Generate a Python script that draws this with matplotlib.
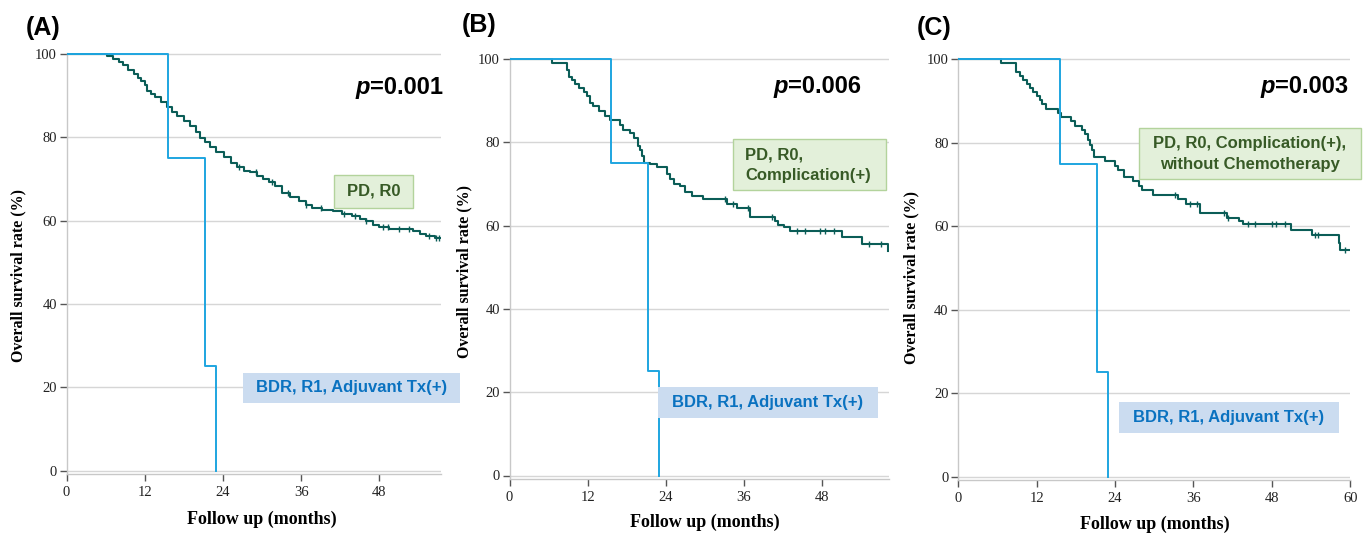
#!/usr/bin/env python3
# Kaplan-Meier overall survival, three subgroups (A, B, C)

import numpy as np
import matplotlib
matplotlib.use('Agg')
import matplotlib.pyplot as plt
from matplotlib.patches import Rectangle


############################################################
# Data (months, survival %)

# BDR, R1, Adjuvant Tx(+) -- same small group in all panels
bdr_time = [0, 15.6, 21.2, 22.9]
bdr_surv = [100, 75, 25, 0]

# (A) PD, R0
a_time = [0, 6.2, 7.2, 8.0, 8.7, 9.5, 10.3, 11.0, 11.5, 12.0, 12.3, 13.0, 13.6, 14.5, 15.4,
          16.2, 16.9, 18.0, 19.0, 19.8, 20.5, 21.2, 22.0, 23.0, 24.1, 25.2, 26.2, 27.2, 28.2,
          29.2, 30.2, 31.0, 32.0, 33.1, 34.3, 35.6, 36.7, 37.7, 39.2, 40.8, 42.3, 43.8, 45.0,
          45.9, 47.0, 47.9, 49.5, 51.0, 53.1, 54.2, 55.1, 56.5, 57.4]
a_surv = [100, 99.6, 98.9, 98.0, 97.3, 96.2, 95.3, 94.3, 93.6, 92.6, 91.2, 90.3, 89.6, 88.4, 87.3,
          86.0, 85.1, 83.8, 82.6, 81.2, 79.8, 78.8, 77.7, 76.5, 75.3, 73.9, 72.8, 72.0, 71.6,
          70.7, 70.0, 69.3, 68.4, 66.7, 65.6, 64.7, 63.8, 63.0, 62.6, 62.2, 61.6, 61.0, 60.4,
          59.8, 59.0, 58.4, 58.1, 57.9, 57.6, 56.8, 56.2, 55.9, 55.9]
a_censor = [26.5, 29.0, 31.5, 34.0, 36.7, 39.0, 42.5, 44.3, 46.0, 48.5, 49.3, 51.0, 52.5,
            55.6, 56.7, 57.2]

# (B) PD, R0, Complication(+)
b_time = [0, 6.5, 8.8, 9.1, 9.6, 10.1, 10.6, 11.4, 11.9, 12.4, 12.9, 13.7, 14.7, 15.5, 17.0,
          17.5, 18.5, 19.1, 19.8, 20.1, 20.3, 20.7, 21.6, 22.6, 24.2, 24.7, 25.2, 26.2, 27.0,
          28.0, 29.8, 33.4, 34.9, 37.0, 40.8, 41.3, 42.1, 43.1, 51.1, 54.1, 58.1]
b_surv = [100, 99.1, 97.3, 95.7, 94.9, 94.0, 93.0, 92.0, 91.0, 89.5, 88.7, 87.6, 86.4, 85.3, 84.1,
          83.0, 82.2, 81.1, 79.1, 78.1, 76.6, 75.0, 74.7, 74.0, 72.4, 71.2, 70.1, 69.4, 68.1,
          67.1, 66.3, 65.3, 64.2, 62.1, 61.1, 60.1, 59.7, 58.7, 57.3, 55.6, 54.0]
b_censor = [33.1, 34.4, 36.7, 40.3, 44.2, 45.4, 47.7, 48.5, 49.8, 55.2, 57.0]

# (C) PD, R0, Complication(+), without Chemotherapy
c_time = [0, 6.6, 8.9, 9.4, 9.9, 10.5, 11.0, 11.5, 12.0, 12.5, 12.8, 13.5, 15.3, 15.7, 17.3,
          17.9, 18.9, 19.4, 19.9, 20.2, 20.4, 20.8, 22.4, 24.0, 24.5, 25.3, 26.8, 27.6, 28.1,
          29.8, 33.7, 34.9, 37.0, 41.1, 42.9, 43.6, 51.0, 54.1, 58.2, 58.4, 60.0]
c_surv = [100, 99.2, 97.0, 96.0, 95.1, 94.1, 93.2, 92.3, 91.3, 90.3, 89.3, 88.2, 87.2, 86.3, 85.2,
          84.1, 83.1, 82.1, 80.7, 79.5, 78.3, 76.6, 75.6, 74.4, 73.4, 71.8, 70.8, 69.7, 68.7,
          67.5, 66.6, 65.4, 63.1, 62.0, 61.2, 60.6, 59.2, 57.9, 56.1, 54.3, 54.3]
c_censor = [33.1, 35.5, 36.5, 40.6, 41.3, 44.4, 45.4, 48.0, 48.7, 50.0, 54.6, 55.1, 59.2]

panel_labels = ['(A)', '(B)', '(C)']
p_values = ['0.001', '0.006', '0.003']
group_labels = ['PD, R0', 'PD, R0,\nComplication(+)', 'PD, R0, Complication(+),\nwithout Chemotherapy']
bdr_label = 'BDR, R1, Adjuvant Tx(+)'
x_ticks = [[0, 12, 24, 36, 48], [0, 12, 24, 36, 48], [0, 12, 24, 36, 48, 60]]
y_ticks = [0, 20, 40, 60, 80, 100]


############################################################
# Style

W, H = 1368, 534
GREEN = '#0b5d57'
BLUE = '#1ea5e0'
GRID = '#d6d6d6'
SERIF = 'Liberation Serif'
SANS = 'Liberation Sans'

fig = plt.figure(figsize=(W / 100, H / 100), dpi=100, facecolor='white')


def fx(px):
	return px / W


def fy(py):
	return 1 - py / H


# pixel layout per panel: x at 0, px per month, xmax, y at 0, y at 100
layout = [
	dict(x0=66.5, ppm=6.52, xmax=57.5, y0=470.5, y100=54.0),
	dict(x0=509.5, ppm=6.51, xmax=58.3, y0=475.5, y100=59.0),
	dict(x0=958.3, ppm=6.533, xmax=60.0, y0=476.5, y100=59.5),
]
YLO, YHI = -0.8, 100.3

series = [(a_time, a_surv, a_censor), (b_time, b_surv, b_censor), (c_time, c_surv, c_censor)]

axes = []
for i, L in enumerate(layout):
	ppu = (L['y0'] - L['y100']) / 100.0
	left = L['x0']
	right = L['x0'] + L['xmax'] * L['ppm']
	bottom = L['y0'] - YLO * ppu
	top = L['y100'] - (YHI - 100) * ppu
	ax = fig.add_axes([fx(left), fy(bottom), fx(right - left), (bottom - top) / H])
	axes.append(ax)

	t, s, cens = series[i]
	ax.step(t, s, where='post', color=GREEN, lw=1.5, zorder=3)
	# censor ticks
	idx = np.searchsorted(t, cens, side='right') - 1
	ax.plot(cens, np.array(s)[idx], linestyle='none', marker='|', ms=4.5, mew=1.0,
		color=GREEN, zorder=3)
	ax.step(bdr_time, bdr_surv, where='post', color=BLUE, lw=1.4, zorder=4)

	ax.set_xlim(0, L['xmax'])
	ax.set_ylim(YLO, YHI)
	ax.set_xticks(x_ticks[i])
	ax.set_yticks(y_ticks)
	ax.grid(axis='y', color=GRID, lw=1.0)
	ax.set_axisbelow(True)
	for side in ['top', 'right']:
		ax.spines[side].set_visible(False)
	for side in ['left', 'bottom']:
		ax.spines[side].set_color('#c8c8c8')
		ax.spines[side].set_linewidth(1.0)
	ax.tick_params(axis='both', direction='out', colors='#555555', labelcolor='#222222',
		labelsize=10.5, length=5, width=1.0)
	ax.tick_params(axis='x', pad=4)
	ax.tick_params(axis='y', pad=2)
	for lab in ax.get_xticklabels() + ax.get_yticklabels():
		lab.set_fontfamily(SERIF)


############################################################
# Texts and boxes (pixel positions)

def box(x0, y0, x1, y1, face, edge):
	fig.patches.append(Rectangle((fx(x0), fy(y1)), fx(x1 - x0), (y1 - y0) / H,
		transform=fig.transFigure, facecolor=face, edgecolor=edge, lw=1.0, zorder=5))


label_pos = [(26, 28.5), (462, 24.5), (917, 27.5)]
for (x, y), lab in zip(label_pos, panel_labels):
	fig.text(fx(x), fy(y), lab, fontsize=18, fontweight='bold', family=SANS,
		ha='left', va='center')

# p-values: italic "p" placed just left of "=0.00x" (baseline positions)
renderer = fig.canvas.get_renderer()
p_pos = [(443, 94), (861, 93), (1348, 93)]
for (x, y), p in zip(p_pos, p_values):
	rest = fig.text(fx(x), fy(y), '=' + p, fontsize=17, fontweight='bold',
		family=SANS, ha='right', va='baseline')
	w = rest.get_window_extent(renderer).width
	fig.text(fx(x - w), fy(y), 'p', fontsize=17, fontweight='bold', style='italic',
		family=SANS, ha='right', va='baseline')

ylab_pos = [(18, 276), (464, 272), (911.5, 277)]
for x, y in ylab_pos:
	fig.text(fx(x), fy(y), 'Overall survival rate (%)', rotation=90, fontsize=11.5,
		fontweight='bold', family=SERIF, ha='center', va='center')

xlab_pos = [(262, 519), (705, 522), (1155, 524)]
for x, y in xlab_pos:
	fig.text(fx(x), fy(y), 'Follow up (months)', fontsize=13, fontweight='bold',
		family=SERIF, ha='center', va='center')

GREEN_FACE, GREEN_EDGE, GREEN_TEXT = '#e3f0da', '#b3d39c', '#375a26'
BLUE_FACE, BLUE_TEXT = '#cbdcf0', '#0a72c0'

# green group boxes
box(334, 175, 413, 208, GREEN_FACE, GREEN_EDGE)
fig.text(fx(373.5), fy(191.5), group_labels[0], fontsize=12, fontweight='bold', family=SANS,
	color=GREEN_TEXT, ha='center', va='center', zorder=6)
box(733, 139, 886, 190.5, GREEN_FACE, GREEN_EDGE)
fig.text(fx(745), fy(165), group_labels[1], fontsize=12, fontweight='bold', family=SANS,
	color=GREEN_TEXT, ha='left', va='center', linespacing=1.45, zorder=6)
box(1139, 128, 1361, 179, GREEN_FACE, GREEN_EDGE)
fig.text(fx(1250), fy(154), group_labels[2], fontsize=12, fontweight='bold', family=SANS,
	color=GREEN_TEXT, ha='center', va='center', linespacing=1.45, zorder=6)

# blue BDR boxes
for x0, y0, x1, y1 in [(243, 372.5, 460, 403), (658, 387, 878, 417.5), (1119, 402, 1339, 433)]:
	box(x0, y0, x1, y1, BLUE_FACE, 'none')
	fig.text(fx((x0 + x1) / 2), fy((y0 + y1) / 2), bdr_label, fontsize=12, fontweight='bold',
		family=SANS, color=BLUE_TEXT, ha='center', va='center', zorder=6)

plt.savefig('out.png', dpi=100, facecolor='white')
